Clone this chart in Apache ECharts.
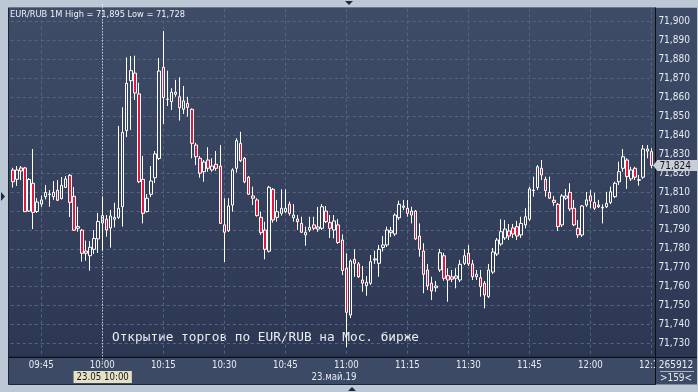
<!DOCTYPE html>
<html><head><meta charset="utf-8">
<script src="https://cdn.jsdelivr.net/npm/echarts@6/dist/echarts.min.js"></script>
<style>html,body{margin:0;padding:0;background:#bdc8d6;overflow:hidden}#c{width:698px;height:392px}</style>
</head><body><div id="c"></div><script>
// ---- data ----
const startMinute = 9 * 60 + 38, endMinute = 12 * 60 + 15;
const times = [];
for (let m = startMinute; m <= endMinute; m++) {
  times.push(String(Math.floor(m / 60)).padStart(2, '0') + ':' + String(m % 60).padStart(2, '0'));
}
const openVals = [
71.8216,71.8167,71.8227,71.8227,71.7999,71.8146,71.7997,71.8036,71.8075,71.8087,
71.8075,71.8109,71.8065,71.8124,71.8188,71.8077,71.7908,71.7898,71.7788,71.7763,
71.7797,71.7852,71.7936,71.7956,71.7910,71.7966,71.7966,71.8022,71.8424,71.8688,
71.8728,71.8618,71.8167,71.7996,71.8088,71.8175,71.8277,71.8759,71.8589,71.8577,
71.8616,71.8603,71.8537,71.8568,71.8537,71.8348,71.8278,71.8207,71.8269,71.8216,
71.8246,71.8237,71.7926,71.7895,71.8031,71.8225,71.8357,71.8278,71.8178,71.8079,
71.8058,71.7966,71.7899,71.7787,71.8114,71.7966,71.7987,71.7996,71.8035,71.7964,
71.7957,71.7934,71.7873,71.7899,71.7926,71.7904,71.7908,71.7999,71.7938,71.7899,
71.7926,71.7846,71.7697,71.7450,71.7744,71.7720,71.7635,71.7605,71.7618,71.7741,
71.7723,71.7807,71.7820,71.7885,71.7878,71.7964,71.8019,71.8014,71.7999,71.7999,
71.7867,71.7788,71.7688,71.7618,71.7594,71.7688,71.7763,71.7658,71.7652,71.7644,
71.7635,71.7723,71.7776,71.7720,71.7652,71.7647,71.7618,71.7547,71.7677,71.7772,
71.7825,71.7857,71.7894,71.7910,71.7917,71.7873,71.7926,71.7956,71.8107,71.8123,
71.8225,71.8167,71.8098,71.8056,71.8035,71.7926,71.8067,71.8098,71.8014,71.7908,
71.7873,71.8031,71.8079,71.8045,71.8022,71.8015,71.8022,71.8045,71.8075,71.8154,
71.8225,71.8269,71.8169,71.8225,71.8162,71.8178,71.8316,71.8313];
const highVals = [
71.8228,71.8237,71.8237,71.8232,71.8174,71.8327,71.8068,71.8081,71.8137,71.8110,
71.8158,71.8163,71.8179,71.8184,71.8195,71.8126,71.8022,71.7904,71.7843,71.7841,
71.7899,71.7989,71.8073,71.7978,71.8005,71.8043,71.8449,71.8547,71.8811,71.8818,
71.8820,71.8677,71.8290,71.8089,71.8237,71.8316,71.8808,71.8950,71.8741,71.8648,
71.8692,71.8706,71.8660,71.8603,71.8541,71.8360,71.8290,71.8269,71.8336,71.8278,
71.8316,71.8348,71.8067,71.8067,71.8225,71.8384,71.8418,71.8285,71.8184,71.8128,
71.8067,71.7996,71.7943,71.8132,71.8121,71.8058,71.8114,71.8114,71.8049,71.8036,
71.7978,71.7969,71.7917,71.7969,71.7969,71.8021,71.8036,71.8026,71.7978,71.7978,
71.7957,71.7876,71.7776,71.7744,71.7797,71.7730,71.7709,71.7656,71.7767,71.7790,
71.7820,71.7867,71.7917,71.7915,71.7987,71.8054,71.8058,71.8058,71.8022,71.8005,
71.7934,71.7829,71.7720,71.7652,71.7630,71.7799,71.7778,71.7697,71.7688,71.7697,
71.7741,71.7797,71.7820,71.7741,71.7688,71.7688,71.7630,71.7720,71.7804,71.7857,
71.7956,71.7952,71.7931,71.7931,71.7947,71.7969,71.8014,71.8128,71.8181,71.8242,
71.8269,71.8181,71.8181,71.8079,71.8042,71.8089,71.8116,71.8146,71.8058,71.7952,
71.8031,71.8100,71.8110,71.8095,71.8058,71.8035,71.8101,71.8128,71.8154,71.8260,
71.8327,71.8278,71.8233,71.8233,71.8190,71.8348,71.8348,71.8331];
const lowVals = [
71.8123,71.8132,71.8163,71.7994,71.7994,71.7904,71.7989,71.8021,71.8061,71.8022,
71.8058,71.8052,71.8060,71.8121,71.7968,71.7894,71.7890,71.7732,71.7737,71.7684,
71.7772,71.7778,71.7794,71.7864,71.7806,71.7913,71.7957,71.7917,71.8390,71.8427,
71.8586,71.8147,71.7934,71.7992,71.8073,71.8147,71.8269,71.8459,71.8554,71.8533,
71.8603,71.8477,71.8512,71.8498,71.8278,71.8242,71.8175,71.8154,71.8207,71.8207,
71.8212,71.7931,71.7730,71.7889,71.7996,71.8202,71.8258,71.8146,71.8084,71.8031,
71.7970,71.7873,71.7744,71.7780,71.7938,71.7943,71.7975,71.7989,71.7975,71.7943,
71.7899,71.7883,71.7816,71.7889,71.7899,71.7889,71.7899,71.7936,71.7857,71.7855,
71.7825,71.7661,71.7280,71.7434,71.7652,71.7646,71.7573,71.7552,71.7609,71.7720,
71.7652,71.7785,71.7809,71.7862,71.7867,71.7952,71.8005,71.7969,71.7934,71.7846,
71.7758,71.7565,71.7582,71.7529,71.7572,71.7677,71.7631,71.7520,71.7624,71.7591,
71.7624,71.7714,71.7709,71.7635,71.7635,71.7547,71.7485,71.7540,71.7667,71.7762,
71.7815,71.7846,71.7846,71.7857,71.7846,71.7857,71.7908,71.7947,71.8075,71.8110,
71.8163,71.8075,71.8063,71.8027,71.7894,71.7915,71.8058,71.7999,71.7920,71.7857,
71.7862,71.8021,71.8014,71.8005,71.8015,71.7934,71.8015,71.8036,71.8068,71.8137,
71.8207,71.8116,71.8158,71.8163,71.8133,71.8169,71.8278,71.8225];
const closeVals = [
71.8154,71.8216,71.8211,71.7996,71.8166,71.7992,71.8047,71.8058,71.8097,71.8089,
71.8098,71.8056,71.8135,71.8169,71.8045,71.7898,71.7917,71.7776,71.7776,71.7808,
71.7854,71.7944,71.7975,71.7899,71.7973,71.7956,71.8014,71.8415,71.8674,71.8741,
71.8623,71.8154,71.7987,71.8067,71.8158,71.8301,71.8739,71.8598,71.8591,71.8627,
71.8627,71.8545,71.8581,71.8547,71.8357,71.8286,71.8199,71.8258,71.8225,71.8237,
71.8225,71.7934,71.7887,71.8026,71.8216,71.8371,71.8265,71.8154,71.8088,71.8067,
71.7975,71.7885,71.7797,71.8125,71.7952,71.7996,71.8014,71.8014,71.7987,71.7978,
71.7943,71.7887,71.7887,71.7913,71.7908,71.7915,71.8022,71.7943,71.7908,71.7947,
71.7833,71.7685,71.7464,71.7735,71.7723,71.7652,71.7618,71.7623,71.7732,71.7746,
71.7797,71.7820,71.7899,71.7895,71.7978,71.8035,71.8026,71.7987,71.7978,71.7852,
71.7797,71.7665,71.7603,71.7577,71.7603,71.7779,71.7644,71.7635,71.7639,71.7656,
71.7718,71.7763,71.7720,71.7652,71.7665,71.7600,71.7556,71.7688,71.7783,71.7846,
71.7890,71.7904,71.7867,71.7878,71.7867,71.7934,71.7969,71.8116,71.8110,71.8233,
71.8190,71.8107,71.8067,71.8045,71.7917,71.8079,71.8079,71.8010,71.7926,71.7873,
71.8026,71.8058,71.8052,71.8014,71.8031,71.8019,71.8040,71.8101,71.8146,71.8207,
71.8286,71.8181,71.8216,71.8178,71.8165,71.8327,71.8327,71.8240];
const yTickMin = 71.72, yTickMax = 71.91, yTickStep = 0.01;
const crosshairTime = '10:00';
const titleText = 'EUR/RUB 1M High = 71,895 Low = 71,728';
const noteText = 'Открытие торгов по EUR/RUB на Мос. бирже';
const dateText = '23.май.19';
const cursorText = '23.05 10:00';
const volText = '265912';
const barsText = '>159<';

// ---- chart ----
const FONT = "'DejaVu Sans Condensed','Liberation Sans',sans-serif";
const fmt = v => v.toFixed(3).replace('.', ',');
const isQuarter = v => /:(00|15|30|45)$/.test(v);
const lastClose = closeVals[closeVals.length - 1];
const candleData = openVals.map((o, i) => [o, closeVals[i], lowVals[i], highVals[i]]);
const bgGrad = () => new echarts.graphic.LinearGradient(0, 0, 0, 1, [
  { offset: 0, color: '#3f4c68' }, { offset: 1, color: '#2c3853' }]);
const FRAME = '#bdc8d6', PANEL = '#3d4a66', GRIDC = '#56667f', TXT = '#e6ebf2';

const baseGraphics = [
  { type: 'rect', z: 0, silent: true, shape: { x: 8.5, y: 7.5, width: 647, height: 350 }, style: { fill: bgGrad(), stroke: '#1d2433', lineWidth: 1 } },
  { type: 'rect', z: 0, silent: true, shape: { x: 655.5, y: 7.5, width: 41.5, height: 350 }, style: { fill: bgGrad() } },
  { type: 'rect', z: 3, silent: true, shape: { x: 0, y: 0, width: 698, height: 7.5 }, style: { fill: FRAME } },
  { type: 'rect', z: 3, silent: true, shape: { x: 8.5, y: 357, width: 647, height: 27.5 }, style: { fill: PANEL, stroke: '#1d2433', lineWidth: 1 } },
  { type: 'rect', z: 5, silent: true, shape: { x: 655.5, y: 357, width: 41.5, height: 27.5 }, style: { fill: PANEL } },
  { type: 'line', z: 6, silent: true, shape: { x1: 660, y1: 371.5, x2: 694, y2: 371.5 }, style: { stroke: '#a9b3c3', lineWidth: 1 } },
  { type: 'text', z: 6, silent: true, style: { text: volText, x: 676, y: 365, align: 'center', verticalAlign: 'middle', fill: TXT, font: '10px ' + FONT } },
  { type: 'text', z: 6, silent: true, style: { text: barsText, x: 676, y: 378, align: 'center', verticalAlign: 'middle', fill: TXT, font: '10px ' + FONT } },
  { type: 'line', z: 6, silent: true, shape: { x1: 8.5, y1: 357.5, x2: 697, y2: 357.5 }, style: { stroke: '#0c0f16', lineWidth: 1 } },
  { type: 'line', z: 6, silent: true, shape: { x1: 655.5, y1: 7.5, x2: 655.5, y2: 384.5 }, style: { stroke: '#0c0f16', lineWidth: 1 } },
  { type: 'text', z: 3, silent: true, style: { text: titleText, x: 10, y: 15, verticalAlign: 'middle', fill: '#eef1f5', font: '9.2px ' + FONT } },
  { type: 'text', z: 1, silent: true, style: { text: noteText, x: 112, y: 338, verticalAlign: 'middle', fill: '#e9ecf1', font: "12.75px 'DejaVu Sans Mono',monospace" } },
  { type: 'text', z: 5, silent: true, style: { text: dateText, x: 334, y: 377, align: 'center', verticalAlign: 'middle', fill: TXT, font: '9.6px ' + FONT } },
  { type: 'text', z: 5, silent: true, style: { text: cursorText, x: 102.7, y: 377, align: 'center', verticalAlign: 'middle', fill: '#15181c', font: '9.6px ' + FONT, backgroundColor: '#e4e1c4', padding: [0, 3, 0, 3], lineHeight: 12 } },
  { type: 'polygon', z: 6, silent: true, shape: { points: [[345, 1], [353, 1], [349, 5]] }, style: { fill: '#1e2a44' } },
  { type: 'polygon', z: 6, silent: true, shape: { points: [[348, 391], [356, 391], [352, 387]] }, style: { fill: '#1e2a44' } },
  { type: 'polygon', z: 6, silent: true, shape: { points: [[1, 192], [1, 201], [5, 196.5]] }, style: { fill: '#1e2a44' } }
];

const chart = echarts.init(document.getElementById('c'), null, { renderer: 'canvas', width: 698, height: 392 });
chart.setOption({
  animation: false,
  backgroundColor: FRAME,
  grid: { left: 10.8, right: 44.6, top: 2.67, bottom: 29.67, containLabel: false },
  xAxis: [{
    type: 'category', data: times, boundaryGap: true, z: 1,
    axisLine: { show: false }, axisTick: { show: false }, axisLabel: { show: false },
    splitLine: { show: true, alignWithLabel: true, interval: (i, v) => isQuarter(v),
      lineStyle: { color: GRIDC, type: [3, 3], width: 1 } }
  }, {
    type: 'category', data: times, boundaryGap: true, position: 'bottom', z: 4,
    axisLine: { show: false }, axisTick: { show: false }, splitLine: { show: false },
    axisLabel: { interval: (i, v) => isQuarter(v), color: TXT, fontSize: 9.6, fontFamily: FONT,
      margin: 3.5, verticalAlign: 'middle' }
  }],
  yAxis: {
    type: 'value', position: 'right', min: yTickMin, max: yTickMax, interval: yTickStep, z: 1,
    axisLine: { show: false }, axisTick: { show: false },
    splitLine: { show: true, lineStyle: { color: GRIDC, type: [3, 3], width: 1 } },
    axisLabel: { color: TXT, fontSize: 10, fontFamily: FONT, margin: 5,
      showMinLabel: false, showMaxLabel: false, formatter: v => fmt(v) }
  },
  series: [{
    type: 'candlestick', data: candleData, barWidth: 3, z: 2,
    itemStyle: { color: 'rgba(0,0,0,0)', color0: '#e3173e', borderColor: '#ffffff', borderColor0: '#ffffff', borderWidth: 1 },
    emphasis: { disabled: true },
    markLine: {
      symbol: 'none', silent: true, animation: false,
      data: [
        { xAxis: crosshairTime, lineStyle: { color: '#ffffff', type: [1, 2], width: 1 }, label: { show: false } }
      ]
    }
  }],
  graphic: { elements: baseGraphics }
});

// last-price marker, positioned through the y axis scale
const py = chart.convertToPixel({ yAxisIndex: 0 }, lastClose);
chart.setOption({ graphic: { elements: baseGraphics.concat([
  { type: 'polygon', z: 7, silent: true, shape: { points: [[653, py], [657.5, py - 5.5], [657.5, py + 5.5]] }, style: { fill: '#c9cdd5' } },
  { type: 'rect', z: 7, silent: true, shape: { x: 657, y: py - 5.5, width: 40, height: 11 }, style: { fill: '#c9cdd5' } },
  { type: 'text', z: 8, silent: true, style: { text: fmt(lastClose), x: 659.5, y: py + 0.5, verticalAlign: 'middle', fill: '#111418', font: '10px ' + FONT } }
]) } });
</script></body></html>
